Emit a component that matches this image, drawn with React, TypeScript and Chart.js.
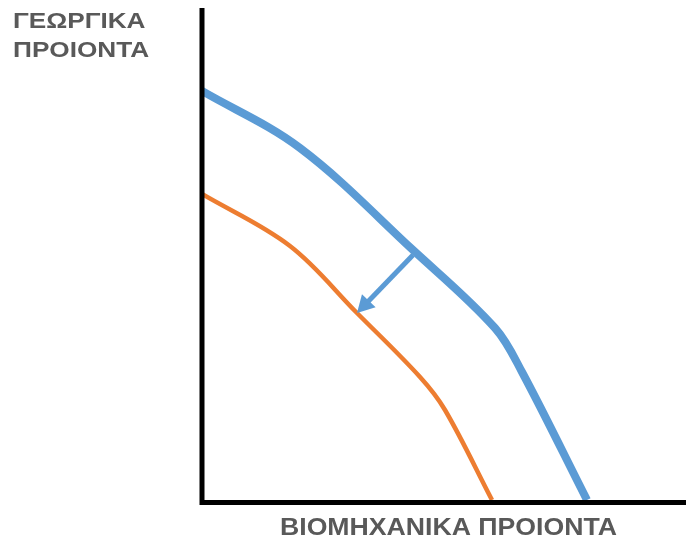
import React, { useEffect, useRef } from "react";
import { Chart, registerables } from "chart.js";

Chart.register(...registerables);

// Data in chart units (x: industrial goods, y: agricultural goods)
const blueX = [0, 98, 211, 293, 320, 385];
const blueY = [409, 352, 250, 172, 128, 0];
const orangeX = [0, 88, 155, 218, 243, 290];
const orangeY = [306, 254, 187, 123, 90, 0];
const arrowFrom = [211, 245];
const arrowTo = [155, 187];

const yLabel = ["ΓΕΩΡΓΙΚΑ", "ΠΡΟΙΟΝΤΑ"];
const xLabel = "ΒΙΟΜΗΧΑΝΙΚΑ ΠΡΟΙΟΝΤΑ";

const BLUE = "#5b9bd5";
const ORANGE = "#ed7d31";

const axesAndArrow = {
  id: "axesAndArrow",
  afterDatasetsDraw(chart: any) {
    const { ctx, chartArea, scales } = chart;
    const xs = scales.x;
    const ys = scales.y;
    // arrow
    const x1 = xs.getPixelForValue(arrowFrom[0]);
    const y1 = ys.getPixelForValue(arrowFrom[1]);
    const x2 = xs.getPixelForValue(arrowTo[0]);
    const y2 = ys.getPixelForValue(arrowTo[1]);
    const ang = Math.atan2(y2 - y1, x2 - x1);
    const headLen = 17;
    const headW = 9.5;
    const bx = x2 - headLen * Math.cos(ang);
    const by = y2 - headLen * Math.sin(ang);
    ctx.save();
    ctx.strokeStyle = BLUE;
    ctx.lineWidth = 5;
    ctx.beginPath();
    ctx.moveTo(x1, y1);
    ctx.lineTo(bx + 2 * Math.cos(ang), by + 2 * Math.sin(ang));
    ctx.stroke();
    ctx.fillStyle = BLUE;
    ctx.beginPath();
    ctx.moveTo(x2, y2);
    ctx.lineTo(bx + headW * Math.sin(ang), by - headW * Math.cos(ang));
    ctx.lineTo(bx - headW * Math.sin(ang), by + headW * Math.cos(ang));
    ctx.closePath();
    ctx.fill();
    // axes
    const ox = xs.getPixelForValue(0);
    const oy = ys.getPixelForValue(0);
    ctx.strokeStyle = "#000";
    ctx.lineWidth = 5;
    ctx.lineCap = "butt";
    ctx.beginPath();
    ctx.moveTo(ox, chartArea.top);
    ctx.lineTo(ox, oy + 2.5);
    ctx.lineTo(chartArea.right, oy + 2.5);
    ctx.stroke();
    ctx.restore();
  },
};

export default function App() {
  const ref = useRef<HTMLCanvasElement>(null);
  useEffect(() => {
    if (!ref.current) return;
    const chart = new Chart(ref.current, {
      type: "scatter",
      data: {
        datasets: [
          {
            data: blueX.map((x, i) => ({ x, y: blueY[i] })),
            showLine: true,
            borderColor: BLUE,
            borderWidth: 8,
            pointRadius: 0,
            tension: 0.35,
            borderCapStyle: "butt",
          },
          {
            data: orangeX.map((x, i) => ({ x, y: orangeY[i] })),
            showLine: true,
            borderColor: ORANGE,
            borderWidth: 4.5,
            pointRadius: 0,
            tension: 0.35,
            borderCapStyle: "butt",
          },
        ],
      },
      options: {
        animation: false,
        responsive: false,
        layout: { padding: { left: 202, top: 8, right: 0, bottom: 43 } },
        plugins: { legend: { display: false }, tooltip: { enabled: false } },
        scales: {
          x: { type: "linear", display: false, min: 0, max: 484 },
          y: { type: "linear", display: false, min: 0, max: 492 },
        },
      },
      plugins: [axesAndArrow],
    } as any);
    return () => chart.destroy();
  }, []);

  const labelStyle: React.CSSProperties = {
    position: "absolute",
    fontFamily: "'Liberation Sans', Arial, sans-serif",
    fontWeight: "bold",
    color: "#595959",
    whiteSpace: "nowrap",
    transformOrigin: "left top",
  };

  return (
    <div style={{ position: "fixed", left: 0, top: 0, width: 686, height: 543, background: "#fff" }}>
      <canvas ref={ref} width={686} height={543} style={{ position: "absolute", left: 0, top: 0 }} />
      <div style={{ ...labelStyle, left: 13, top: 6, fontSize: 22, lineHeight: "29px", transform: "scaleX(1.19)" }}>
        {yLabel[0]}
        <br />
        {yLabel[1]}
      </div>
      <div style={{ ...labelStyle, left: 280, top: 512, fontSize: 24, lineHeight: "29px", transform: "scaleX(1.11)" }}>
        {xLabel}
      </div>
    </div>
  );
}
